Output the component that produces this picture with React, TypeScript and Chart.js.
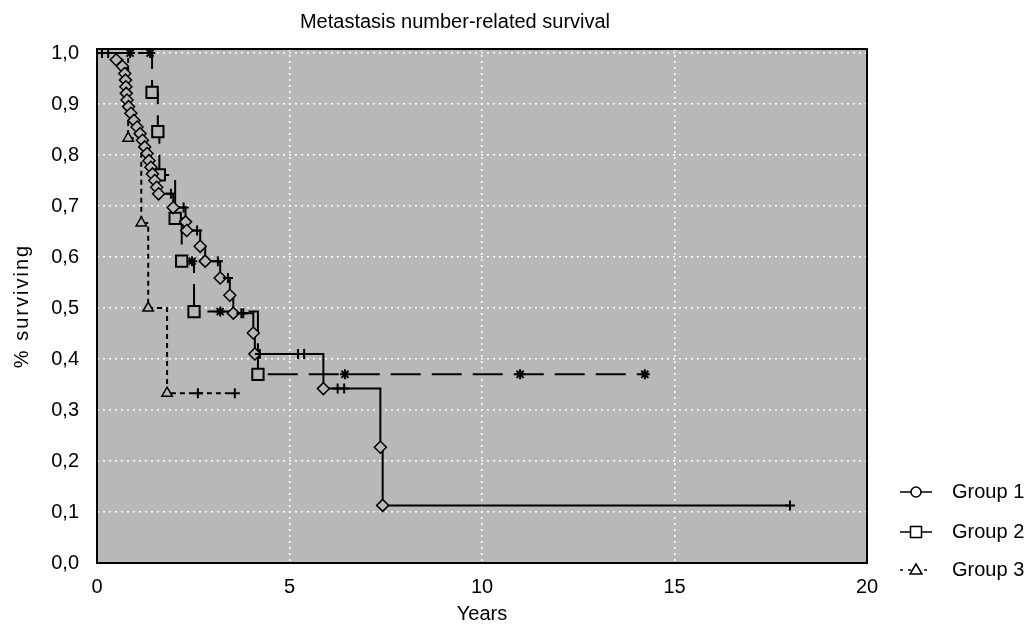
import React, { useEffect, useRef } from 'react';
import { Chart, registerables } from 'chart.js';

Chart.register(...registerables);

const chartTitle = 'Metastasis number-related survival';
const xTitle = 'Years';
const yTitle = '% surviving';
const groupNames = ['Group 1', 'Group 2', 'Group 3'];

const xTicks = [0, 5, 10, 15, 20];
const yTicks = [0, 0.1, 0.2, 0.3, 0.4, 0.5, 0.6, 0.7, 0.8, 0.9, 1.0];

// kind: s = start, e = event (complete), c = censored
const g1Time = [0, 0.13, 0.29, 0.5, 0.66, 0.72, 0.74, 0.75, 0.76, 0.78, 0.82, 0.88, 0.96, 1.04, 1.12, 1.18, 1.24, 1.3, 1.35, 1.4, 1.44, 1.5, 1.55, 1.6, 1.92, 1.98, 2.25, 2.3, 2.33, 2.6, 2.68, 2.81, 3.14, 3.2, 3.4, 3.45, 3.54, 3.75, 3.8, 4.06, 4.1, 4.23, 5.22, 5.38, 5.88, 6.25, 6.42, 7.36, 7.42, 18.0];
const g1Surv = [1, 1, 1, 0.987, 0.974, 0.96, 0.947, 0.934, 0.921, 0.908, 0.895, 0.882, 0.868, 0.855, 0.842, 0.829, 0.816, 0.803, 0.789, 0.776, 0.763, 0.75, 0.737, 0.724, 0.724, 0.697, 0.697, 0.669, 0.652, 0.652, 0.621, 0.592, 0.592, 0.559, 0.559, 0.525, 0.49, 0.49, 0.49, 0.451, 0.41, 0.41, 0.41, 0.41, 0.342, 0.342, 0.342, 0.227, 0.113, 0.113];
const g1Kind = ['s', 'c', 'c', 'e', 'e', 'e', 'e', 'e', 'e', 'e', 'e', 'e', 'e', 'e', 'e', 'e', 'e', 'e', 'e', 'e', 'e', 'e', 'e', 'e', 'c', 'e', 'c', 'e', 'e', 'c', 'e', 'e', 'c', 'e', 'c', 'e', 'e', 'c', 'c', 'e', 'e', 'c', 'c', 'c', 'e', 'c', 'c', 'e', 'e', 'c'];

const g2Time = [0, 0.86, 1.38, 1.43, 1.58, 1.62, 2.03, 2.2, 2.47, 2.52, 3.2, 4.18, 6.44, 10.99, 14.23];
const g2Surv = [1, 1, 1, 0.923, 0.846, 0.761, 0.676, 0.592, 0.592, 0.493, 0.493, 0.37, 0.37, 0.37, 0.37];
const g2Kind = ['s', 'c', 'c', 'e', 'e', 'e', 'e', 'e', 'c', 'e', 'c', 'e', 'c', 'c', 'c'];

const g3Time = [0, 0.81, 1.15, 1.33, 1.82, 2.62, 3.58];
const g3Surv = [1, 0.833, 0.667, 0.5, 0.333, 0.333, 0.333];
const g3Kind = ['s', 'e', 'e', 'e', 'e', 'c', 'c'];

const PLOT_BG = '#b8b8b8';
const FONT = 'Liberation Sans';

function makeDataset(label, times, surv, kinds, eventStyle, eventRadius, eventBorder, censorStyle, dash) {
  return {
    label,
    data: times.map((t, i) => ({ x: t, y: surv[i] })),
    stepped: true,
    borderColor: '#000',
    borderWidth: 2,
    borderDash: dash,
    fill: false,
    clip: false,
    pointStyle: (c) => (kinds[c.dataIndex] === 'e' ? eventStyle : censorStyle),
    pointRadius: (c) => (kinds[c.dataIndex] === 's' ? 0 : kinds[c.dataIndex] === 'e' ? eventRadius : 5),
    pointBorderWidth: (c) => (kinds[c.dataIndex] === 'e' ? eventBorder : 2),
    pointBackgroundColor: PLOT_BG,
    pointBorderColor: '#000',
  };
}

const decorPlugin = {
  id: 'decor',
  beforeDraw(chart) {
    const { ctx, chartArea: a } = chart;
    ctx.save();
    ctx.fillStyle = PLOT_BG;
    ctx.fillRect(a.left, a.top, a.right - a.left, a.bottom - a.top);
    ctx.restore();
  },
  afterDraw(chart) {
    const { ctx, chartArea: a } = chart;
    ctx.save();
    ctx.strokeStyle = '#000';
    ctx.lineWidth = 2;
    ctx.setLineDash([]);
    ctx.strokeRect(a.left, a.top, a.right - a.left, a.bottom - a.top);

    ctx.fillStyle = '#000';
    ctx.font = `20px "${FONT}"`;
    ctx.textAlign = 'center';
    ctx.textBaseline = 'middle';
    ctx.fillText(chartTitle, 455, 22);

    // y axis title
    ctx.save();
    ctx.translate(22, (a.top + a.bottom) / 2);
    ctx.rotate(-Math.PI / 2);
    ctx.letterSpacing = '2px';
    ctx.fillText(yTitle, 0, 0);
    ctx.restore();

    // legend
    const rows = [492, 532, 570];
    const lx0 = 900, lx1 = 932, mx = 916, tx = 952;
    rows.forEach((y, i) => {
      ctx.strokeStyle = '#000';
      ctx.lineWidth = 1.5;
      ctx.setLineDash(i === 2 ? [3, 5] : []);
      ctx.beginPath();
      ctx.moveTo(lx0, y);
      ctx.lineTo(lx1, y);
      ctx.stroke();
      ctx.setLineDash([]);
      ctx.fillStyle = '#fff';
      ctx.beginPath();
      if (i === 0) {
        ctx.arc(mx, y, 5, 0, Math.PI * 2);
      } else if (i === 1) {
        ctx.rect(mx - 5.5, y - 5.5, 11, 11);
      } else {
        ctx.moveTo(mx, y - 6);
        ctx.lineTo(mx + 6, y + 4);
        ctx.lineTo(mx - 6, y + 4);
        ctx.closePath();
      }
      ctx.fill();
      ctx.stroke();
      ctx.fillStyle = '#000';
      ctx.textAlign = 'left';
      ctx.textBaseline = 'middle';
      ctx.font = `20px "${FONT}"`;
      ctx.fillText(groupNames[i], tx, y);
    });
    ctx.restore();
  },
};

export default function App() {
  const ref = useRef(null);
  useEffect(() => {
    document.body.style.margin = '0';
    Chart.defaults.font.family = FONT;
    Chart.defaults.font.size = 20;
    Chart.defaults.color = '#000';
    const chart = new Chart(ref.current, {
      type: 'line',
      data: {
        datasets: [
          makeDataset(groupNames[0], g1Time, g1Surv, g1Kind, 'rectRot', 6, 1.5, 'cross', []),
          makeDataset(groupNames[1], g2Time, g2Surv, g2Kind, 'rect', 8, 2, 'star', [30, 11]),
          makeDataset(groupNames[2], g3Time, g3Surv, g3Kind, 'triangle', 6, 1.5, 'cross', [5, 4]),
        ],
      },
      options: {
        animation: false,
        responsive: true,
        maintainAspectRatio: false,
        layout: { padding: { top: 49, right: 167, bottom: 0, left: 0 } },
        plugins: { legend: { display: false }, tooltip: { enabled: false }, title: { display: false } },
        scales: {
          x: {
            type: 'linear',
            min: 0,
            max: 20,
            afterBuildTicks: (s) => { s.ticks = xTicks.map((v) => ({ value: v })); },
            afterFit: (s) => { s.height = 65; },
            grid: { color: '#ffffff', lineWidth: 1.5, drawTicks: false },
            border: { display: false, dash: [2, 4] },
            ticks: { padding: 12, maxRotation: 0, autoSkip: false, color: '#000', font: { size: 20 }, callback: (v) => String(v) },
            title: { display: true, text: xTitle, color: '#000', font: { size: 20 }, padding: { top: 0, bottom: 2 } },
          },
          y: {
            type: 'linear',
            min: 0,
            max: 1.008,
            afterBuildTicks: (s) => { s.ticks = yTicks.map((v) => ({ value: v })); },
            afterFit: (s) => { s.width = 97; },
            grid: { color: '#ffffff', lineWidth: 1.5, drawTicks: false },
            border: { display: false, dash: [2, 4] },
            ticks: { padding: 18, color: '#000', font: { size: 20 }, callback: (v) => Number(v).toFixed(1).replace('.', ',') },
            title: { display: false },
          },
        },
      },
      plugins: [decorPlugin],
    });
    return () => chart.destroy();
  }, []);
  return (
    <div style={{ position: 'relative', width: 1034, height: 628 }}>
      <canvas ref={ref} />
    </div>
  );
}
